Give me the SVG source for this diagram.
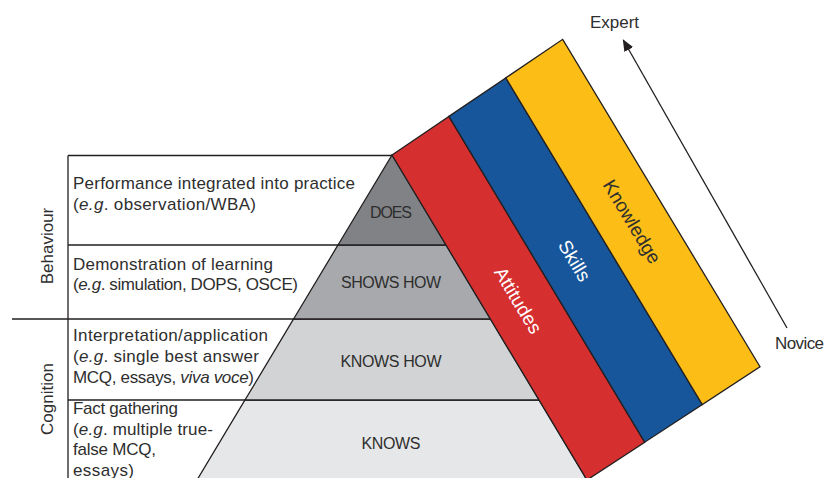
<svg xmlns="http://www.w3.org/2000/svg" width="825" height="478" viewBox="0 0 825 478">
<defs>
<style>
text{font-family:"Liberation Sans",Arial,sans-serif;fill:#2e2e2e}
.t{font-size:17px}
.lab{font-size:16px;text-anchor:middle}
.side{font-size:17px;text-anchor:middle}
.band{font-size:19px;text-anchor:middle}
.w{fill:#ffffff}
.ln{stroke:#231f20;stroke-width:1.3;fill:none}
.tier{stroke:#231f20;stroke-width:1.3}
.bd{stroke:#231f20;stroke-width:1.3;stroke-linejoin:miter}
.it{font-style:italic}
</style>
<marker id="ah" markerWidth="12" markerHeight="10" refX="11" refY="5" orient="auto" markerUnits="userSpaceOnUse">
<path d="M0,0 L12,5 L0,10 Z" fill="#231f20"/>
</marker>
</defs>
<rect width="825" height="478" fill="#ffffff"/>

<g id="pyramid">
<g id="tier-knows"><polygon class="tier" points="245,400 539,400 587,480 197,480" fill="#e6e7e8"/><text class="lab" x="391" y="449" textLength="59">KNOWS</text></g>
<g id="tier-knows-how"><polygon class="tier" points="293.6,319 490.4,319 539,400 245,400" fill="#d1d3d4"/><text class="lab" x="391" y="367" textLength="101">KNOWS HOW</text></g>
<g id="tier-shows-how"><polygon class="tier" points="338,245 446,245 490.4,319 293.6,319" fill="#a7a9ac"/><text class="lab" x="391" y="288" textLength="100">SHOWS HOW</text></g>
<g id="tier-does"><polygon class="tier" points="392,155 446,245 338,245" fill="#808285"/><text class="lab" x="391" y="218" textLength="42">DOES</text></g>
</g>

<g id="table">
<path class="ln" d="M68,155.5 H392 M68,245 H338 M12,319 H293.6 M68,400 H245 M68,155.5 V478"/>
<g id="row-does"><text class="t" x="73" y="189" textLength="282">Performance integrated into practice</text><text class="t" x="73" y="209.5" textLength="183">(<tspan class="it">e.g</tspan>. observation/WBA)</text></g>
<g id="row-shows-how"><text class="t" x="73" y="269.5" textLength="200">Demonstration of learning</text><text class="t" x="73" y="290" textLength="225">(<tspan class="it">e.g</tspan>. simulation, DOPS, OSCE)</text></g>
<g id="row-knows-how"><text class="t" x="73" y="340.5" textLength="195">Interpretation/application</text><text class="t" x="73" y="361.5" textLength="186">(<tspan class="it">e.g</tspan>. single best answer</text><text class="t" x="73" y="382.5" textLength="181">MCQ, essays, <tspan class="it">viva voce</tspan>)</text></g>
<g id="row-knows"><text class="t" x="73" y="414" textLength="105">Fact gathering</text><text class="t" x="73" y="434.5" textLength="140">(<tspan class="it">e.g</tspan>. multiple true-</text><text class="t" x="73" y="455" textLength="83">false MCQ,</text><text class="t" x="73" y="475.5" textLength="61">essays)</text></g>
<g id="label-behaviour"><text class="side" transform="translate(53,246) rotate(-90)">Behaviour</text></g>
<g id="label-cognition"><text class="side" transform="translate(53,399) rotate(-90)">Cognition</text></g>
</g>

<g id="bands">
<g id="band-attitudes"><polygon class="bd" points="392,155 448.9,116.4 644.7,442.2 587,480" fill="#d62f30"/><text class="band w" transform="translate(518.5,300) rotate(59)" y="7">Attitudes</text></g>
<g id="band-skills"><polygon class="bd" points="448.9,116.4 505.8,77.9 702.3,404.5 644.7,442.2" fill="#17569b"/><text class="band w" transform="translate(575,260.5) rotate(59)" y="7">Skills</text></g>
<g id="band-knowledge"><polygon class="bd" points="505.8,77.9 562.7,39.3 760,366.7 702.3,404.5" fill="#fbbd16"/><text class="band" transform="translate(632.5,221.5) rotate(59)" y="7">Knowledge</text></g>
</g>

<g id="connectors">
<line x1="787" y1="328" x2="623.3" y2="40" stroke="#231f20" stroke-width="1.3" marker-end="url(#ah)"/>
</g>
<g id="label-expert"><text class="t" x="614.5" y="27.5" text-anchor="middle">Expert</text></g>
<g id="label-novice"><text class="t" x="775" y="348.5" textLength="49">Novice</text></g>
</svg>
